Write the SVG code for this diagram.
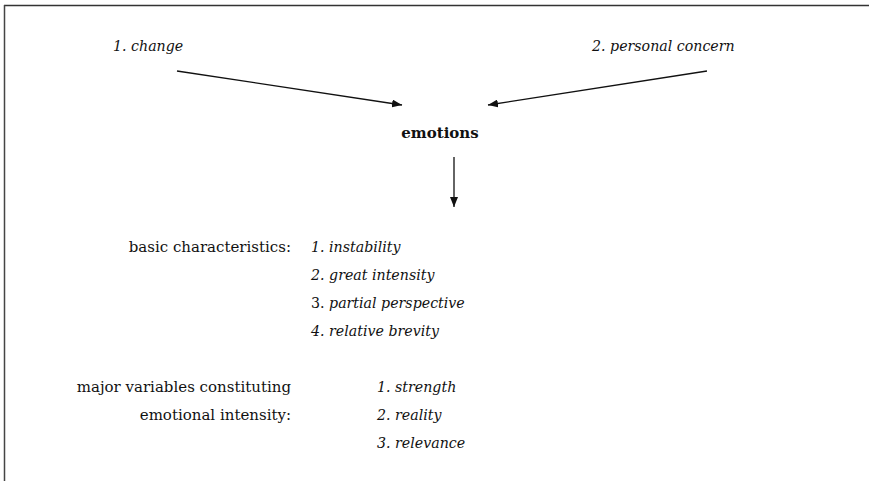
<svg xmlns="http://www.w3.org/2000/svg" width="869" height="481" viewBox="0 0 869 481">
<style>
text{font-family:"DejaVu Serif","Liberation Serif",serif;font-size:15px;fill:#111}
.i{font-style:italic;font-size:14.2px}
.b{font-weight:bold;font-size:15px}
.e{text-anchor:end}
.c{stroke:#111;stroke-width:1.3;fill:none}
</style>
<defs>
<marker id="ah" markerWidth="10" markerHeight="8" refX="10" refY="4" orient="auto" markerUnits="userSpaceOnUse">
<path d="M0,0 L10,4 L0,8 Z" fill="#111"/>
</marker>
</defs>
<rect width="869" height="481" fill="#fff"/>
<g id="frame">
<line x1="4" y1="5.5" x2="869" y2="5.5" stroke="#333" stroke-width="1.5"/>
<line x1="4.5" y1="5" x2="4.5" y2="481" stroke="#444" stroke-width="1.5"/>
</g>
<g id="connectors">
<line class="c" x1="177" y1="71" x2="402" y2="105" marker-end="url(#ah)"/>
<line class="c" x1="707" y1="71" x2="488" y2="105" marker-end="url(#ah)"/>
<line class="c" x1="454" y1="157" x2="454" y2="207" marker-end="url(#ah)"/>
</g>
<g id="change"><text class="i" x="113" y="51">1. change</text></g>
<g id="concern"><text class="i" x="592" y="51">2. personal concern</text></g>
<g id="emotions"><text class="b" x="440" y="138" text-anchor="middle">emotions</text></g>
<g id="basic">
<text class="e" x="291" y="252">basic characteristics:</text>
<text class="i" x="311" y="252">1. instability</text>
<text class="i" x="311" y="280">2. great intensity</text>
<text x="311" y="308" style="font-size:14.2px">3. <tspan class="i">partial perspective</tspan></text>
<text class="i" x="311" y="336">4. relative brevity</text>
</g>
<g id="variables">
<text class="e" x="291" y="392">major variables constituting</text>
<text class="e" x="291" y="420">emotional intensity:</text>
<text class="i" x="377" y="392">1. strength</text>
<text class="i" x="377" y="420">2. reality</text>
<text class="i" x="377" y="448">3. relevance</text>
</g>
</svg>
